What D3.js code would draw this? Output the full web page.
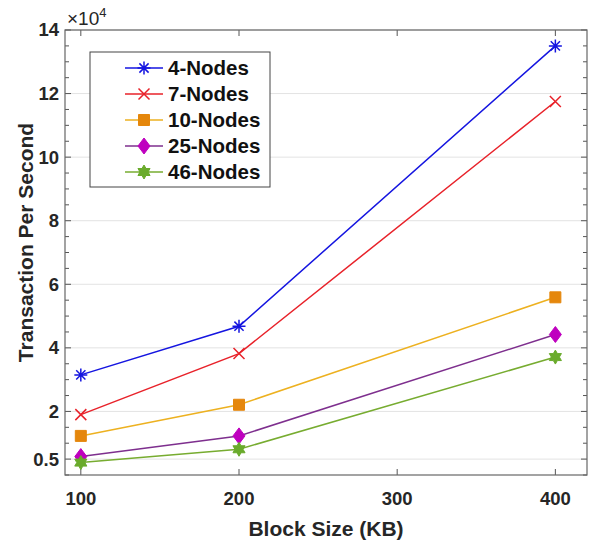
<!DOCTYPE html>
<html>
<head>
<meta charset="utf-8">
<script src="https://cdn.jsdelivr.net/npm/d3@7"></script>
<style>
  body { margin: 0; background: #fff; }
  svg { font-family: "Liberation Sans", Arial, Helvetica, sans-serif; }
</style>
</head>
<body>
<svg width="596" height="542"></svg>
<script>
// data (units of 1e4 transactions per second)
var blockSizes = [100, 200, 400];
var seriesNames = ["4-Nodes", "7-Nodes", "10-Nodes", "25-Nodes", "46-Nodes"];
var tps4  = [3.15, 4.68, 13.5];
var tps7  = [1.90, 3.82, 11.75];
var tps10 = [1.23, 2.21, 5.59];
var tps25 = [0.58, 1.23, 4.42];
var tps46 = [0.39, 0.81, 3.71];
var xTicks = [100, 200, 300, 400];
var yTicks = [0.5, 2, 4, 6, 8, 10, 12, 14];

var series = [
  {name: seriesNames[0], values: tps4,  line: "#1515e0", fill: "#1515e0", marker: "asterisk"},
  {name: seriesNames[1], values: tps7,  line: "#e8222a", fill: "#e8222a", marker: "times"},
  {name: seriesNames[2], values: tps10, line: "#EDB120", fill: "#e5870c", marker: "square"},
  {name: seriesNames[3], values: tps25, line: "#7E2F8E", fill: "#bf00bf", marker: "diamond"},
  {name: seriesNames[4], values: tps46, line: "#77AC30", fill: "#6aab2c", marker: "hexagram"}
];

var svg = d3.select("svg");
var margin = {top: 30, right: 9, bottom: 67, left: 65},
    width = 596 - margin.left - margin.right,
    height = 542 - margin.top - margin.bottom;

var x = d3.scaleLinear().domain([90, 420]).range([margin.left, margin.left + width]);
var y = d3.scaleLinear().domain([0, 14]).range([margin.top + height, margin.top]);

// grid
svg.append("g").selectAll("line")
  .data(yTicks).enter().append("line")
  .attr("x1", margin.left).attr("x2", margin.left + width)
  .attr("y1", d => y(d)).attr("y2", d => y(d))
  .attr("stroke", "#e3e3e3").attr("stroke-width", 1);

// axes (ticks inside the box)
var minor = d3.range(0, 14.01, 0.5);
function yAxisTicks(side) {
  var x0 = side === "left" ? margin.left : margin.left + width;
  var dir = side === "left" ? 1 : -1;
  svg.append("g").selectAll("line")
    .data(minor).enter().append("line")
    .attr("x1", x0).attr("x2", d => x0 + dir * (yTicks.indexOf(d) >= 0 ? 6 : 4))
    .attr("y1", d => y(d)).attr("y2", d => y(d))
    .attr("stroke", "#555");
}
yAxisTicks("left");
yAxisTicks("right");

[margin.top + height, margin.top].forEach(function(y0, i) {
  svg.append("g").selectAll("line")
    .data(xTicks).enter().append("line")
    .attr("x1", d => x(d)).attr("x2", d => x(d))
    .attr("y1", y0).attr("y2", i === 0 ? y0 - 6 : y0 + 6)
    .attr("stroke", "#555");
});

svg.append("rect")
  .attr("x", margin.left).attr("y", margin.top)
  .attr("width", width).attr("height", height)
  .attr("fill", "none").attr("stroke", "#666").attr("stroke-width", 1.2);

// tick labels
svg.append("g").selectAll("text")
  .data(xTicks).enter().append("text")
  .attr("x", d => x(d)).attr("y", 505)
  .attr("text-anchor", "middle")
  .attr("font-size", 18.5).attr("font-weight", "bold").attr("fill", "#262626")
  .text(d => d);

svg.append("g").selectAll("text")
  .data(yTicks).enter().append("text")
  .attr("x", 59).attr("y", d => y(d))
  .attr("dy", "0.35em")
  .attr("text-anchor", "end")
  .attr("font-size", 18.5).attr("font-weight", "bold").attr("fill", "#262626")
  .text(d => d);

// exponent
var expo = svg.append("text").attr("x", 67).attr("y", 25)
  .attr("font-size", 19).attr("fill", "#262626");
expo.append("tspan").text("\u00d710");
expo.append("tspan").attr("dy", -8).attr("font-size", 13).text("4");

// axis titles
svg.append("text")
  .attr("x", x(90) + width / 2).attr("y", 536)
  .attr("text-anchor", "middle")
  .attr("font-size", 21).attr("font-weight", "bold").attr("fill", "#262626")
  .text("Block Size (KB)");

svg.append("text")
  .attr("transform", "translate(33," + (margin.top + height / 2 - 10) + ") rotate(-90)")
  .attr("text-anchor", "middle")
  .attr("font-size", 21).attr("font-weight", "bold").attr("fill", "#262626")
  .text("Transaction Per Second");

// markers
function markerPath(type) {
  var p = d3.path(), r;
  if (type === "asterisk") {
    r = 6.5;
    for (var k = 0; k < 4; k++) {
      var a = k * Math.PI / 4;
      p.moveTo(-r * Math.cos(a), -r * Math.sin(a));
      p.lineTo(r * Math.cos(a), r * Math.sin(a));
    }
  } else if (type === "times") {
    r = 5.5;
    p.moveTo(-r, -r); p.lineTo(r, r);
    p.moveTo(-r, r); p.lineTo(r, -r);
  } else if (type === "square") {
    r = 5.5;
    p.rect(-r, -r, 2 * r, 2 * r);
  } else if (type === "diamond") {
    p.moveTo(0, -8); p.lineTo(6, 0); p.lineTo(0, 8); p.lineTo(-6, 0); p.closePath();
  } else if (type === "hexagram") {
    r = 7;
    for (var i = 0; i < 12; i++) {
      var rr = i % 2 === 0 ? r : r / Math.sqrt(3);
      var ang = -Math.PI / 2 + i * Math.PI / 6;
      if (i === 0) p.moveTo(rr * Math.cos(ang), rr * Math.sin(ang));
      else p.lineTo(rr * Math.cos(ang), rr * Math.sin(ang));
    }
    p.closePath();
  }
  return p.toString();
}
function drawMarker(g, s) {
  var stroked = s.marker === "asterisk" || s.marker === "times";
  g.append("path")
    .attr("d", markerPath(s.marker))
    .attr("fill", stroked ? "none" : s.fill)
    .attr("stroke", stroked ? s.line : s.fill)
    .attr("stroke-width", stroked ? 1.5 : 1);
}

var line = d3.line().x((d, i) => x(blockSizes[i])).y(d => y(d));

series.forEach(function(s) {
  svg.append("path")
    .datum(s.values)
    .attr("d", line)
    .attr("fill", "none").attr("stroke", s.line).attr("stroke-width", 1.5);
  s.values.forEach(function(v, i) {
    var g = svg.append("g").attr("transform", "translate(" + x(blockSizes[i]) + "," + y(v) + ")");
    drawMarker(g, s);
  });
});

// legend
var legend = svg.append("g");
legend.append("rect")
  .attr("x", 90).attr("y", 52).attr("width", 180).attr("height", 135)
  .attr("fill", "#fff").attr("stroke", "#444").attr("stroke-width", 1);
series.forEach(function(s, i) {
  var ly = 68 + i * 26;
  legend.append("line")
    .attr("x1", 125).attr("x2", 163).attr("y1", ly).attr("y2", ly)
    .attr("stroke", s.line).attr("stroke-width", 1.5);
  drawMarker(legend.append("g").attr("transform", "translate(144," + ly + ")"), s);
  legend.append("text")
    .attr("x", 168).attr("y", ly).attr("dy", "0.36em")
    .attr("font-size", 20.5).attr("font-weight", "bold").attr("fill", "#111")
    .text(s.name);
});
</script>
</body>
</html>
